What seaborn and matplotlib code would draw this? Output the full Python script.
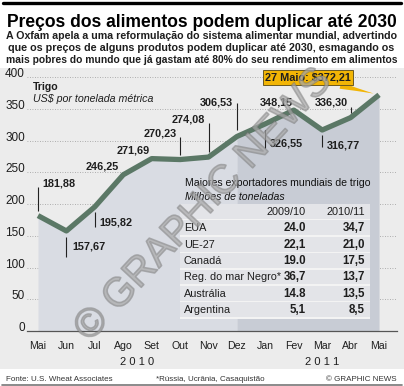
import matplotlib
matplotlib.use("Agg")
import matplotlib.pyplot as plt
import matplotlib.patheffects as pe
import seaborn as sns
import pandas as pd
from matplotlib.patches import Rectangle
from matplotlib.lines import Line2D

# ---------------- data ----------------
months = ['Mai', 'Jun', 'Jul', 'Ago', 'Set', 'Out', 'Nov', 'Dez',
          'Jan', 'Fev', 'Mar', 'Abr', 'Mai']
prices = [181.88, 157.67, 195.82, 246.25, 271.69, 270.23, 274.08, 306.53,
          326.55, 348.15, 316.77, 336.30, 372.21]
price_labels = ['181,88', '157,67', '195,82', '246,25', '271,69', '270,23',
                '274,08', '306,53', '326,55', '348,15', '316,77', '336,30', '372,21']
callout_text = '27 Maio: $372,21'
yticks = [0, 50, 100, 150, 200, 250, 300, 350, 400]
years = ['2 0 1 0', '2 0 1 1']
year_pos = [3.5, 10]

table_title = 'Maiores exportadores mundiais de trigo'
table_unit = 'Milhões de toneladas'
table_cols = ['2009/10', '2010/11']
countries = ['EUA', 'UE-27', 'Canadá', 'Reg. do mar Negro*', 'Austrália', 'Argentina']
exp_2009 = ['24.0', '22,1', '19.0', '36,7', '14.8', '5,1']
exp_2010 = ['34,7', '21,0', '17,5', '13,7', '13,5', '8,5']

title = 'Preços dos alimentos podem duplicar até 2030'
subtitle = ['A Oxfam apela a uma reformulação do sistema alimentar mundial, advertindo',
            'que os preços de alguns produtos podem duplicar até 2030, esmagando os',
            'mais pobres do mundo que já gastam até 80% do seu rendimento em alimentos']
series_name = 'Trigo'
series_unit = 'US$ por tonelada métrica'
source = 'Fonte: U.S. Wheat Associates'
footnote = '*Rússia, Ucrânia, Casaquistão'
credit = '© GRAPHIC NEWS'

# ---------------- style ----------------
sns.set_style('white')
plt.rcParams['font.family'] = ['Liberation Sans', 'DejaVu Sans']
TXT = '#1e1e1e'
LINE = '#5b7866'
FILL_A = '#d9dce3'
FILL_B = '#c8ccd5'
BG = '#ececec'

W, H = 404, 386
def fx(px):
    return px / W
def fy(py):
    return 1 - py / H

fig = plt.figure(figsize=(W / 100, H / 100), dpi=100)
fig.patch.set_facecolor('white')

# background of chart region
fig.patches.append(Rectangle((0, fy(369)), 1, (369 - 68) / H, transform=fig.transFigure,
                             facecolor=BG, edgecolor='none', zorder=-10))
# top rule & bottom rule
fig.add_artist(Line2D([fx(3), fx(401)], [fy(2.5), fy(2.5)], color='black', lw=2.4))
fig.add_artist(Line2D([fx(2), fx(402)], [fy(384.5), fy(384.5)], color='#777777', lw=1.2))

YMAX = 410
ax_bottom, ax_top = 331, 331 - 410 * 0.6345
ax = fig.add_axes([fx(27), fy(ax_bottom), (397 - 27) / W, (ax_bottom - ax_top) / H])
ax.set_facecolor('none')
ppu = (ax_bottom - ax_top) / YMAX  # pixels per data unit

x = list(range(len(prices)))
df = pd.DataFrame({'x': x, 'price': prices})

split = months.index('Dez')
ax.fill_between(x[:split + 1], prices[:split + 1], 0, color=FILL_A, lw=0, zorder=1)
ax.fill_between(x[split:], prices[split:], 0, color=FILL_B, lw=0, zorder=1)
sns.lineplot(data=df, x='x', y='price', ax=ax, color=LINE, lw=3.8, sort=False,
             zorder=3, solid_joinstyle='round', solid_capstyle='butt')

ax.set_xlim((27 - 38) / 28.42, (397 - 38) / 28.42)
ax.set_ylim(0, YMAX)
ax.set_xlabel('')
ax.set_ylabel('')

# grid and axes
ax.set_yticks(yticks)
ax.set_yticklabels([str(v) for v in yticks])
for lbl in ax.get_yticklabels():
    lbl.set_va('baseline')
ax.tick_params(axis='y', length=0, pad=1.5, labelsize=8.5, labelcolor=TXT)
ax.yaxis.grid(True, linestyle=(0, (1, 2)), color='#9a9a9a', lw=0.6)
ax.xaxis.grid(False)
ax.set_axisbelow(True)
ax.set_xticks(x)
ax.set_xticklabels(months)
ax.tick_params(axis='x', length=5, width=0.8, color='#555555', pad=2.5,
               labelsize=7.6, labelcolor=TXT)
for s in ['top', 'right', 'left']:
    ax.spines[s].set_visible(False)
ax.spines['bottom'].set_color('#555555')
ax.spines['bottom'].set_linewidth(0.9)

for yr, pos in zip(years, year_pos):
    ax.annotate(yr, xy=(pos, 0), xytext=(0, -34), textcoords='offset pixels',
                ha='center', va='baseline', fontsize=8, color=TXT, annotation_clip=False)

# point labels (pixel offsets) and leader lines
lab_dx = [4, 5.5, 5, -4, -2, -3, -3.5, -4, 4, -1, 5, -2.6]
lab_dy = [31.6, -16, -16, 8, 8, 26, 38, 34.5, -20, 8, -15, 15.6]
lab_ha = ['left', 'left', 'left', 'right', 'right', 'right', 'right', 'right',
          'left', 'right', 'left', 'right']
leaders = [(5, 29), (-6, -26), (-5, -20), None, None, (4.5, 22.5), (5, 34),
           (6.5, 33.5), (-6, -24), None, (-5, -17), (4.6, 10.6)]
for i in range(len(lab_dx)):
    ax.annotate(price_labels[i], xy=(x[i], prices[i]), xytext=(lab_dx[i], lab_dy[i]),
                textcoords='offset pixels', ha=lab_ha[i], va='center', fontsize=7.8,
                fontweight='bold', color=TXT, zorder=6)
    if leaders[i] is not None:
        a, b = leaders[i]
        ax.plot([x[i], x[i]], [prices[i] + a / ppu, prices[i] + b / ppu],
                color='#222222', lw=0.8, zorder=5, solid_capstyle='butt')

# callout for last point
last = len(prices) - 1
ax.annotate(callout_text, xy=(x[last], prices[last]), xytext=(-71, 17),
            textcoords='offset pixels', ha='center', va='center', fontsize=7.8,
            fontweight='bold', color=TXT, zorder=7,
            bbox=dict(boxstyle='square,pad=0.22', fc='#f2b505', ec='#6b5a20', lw=0.7),
            arrowprops=dict(arrowstyle='wedge,tail_width=0.6,shrink_factor=0.45',
                            fc='#f2b505', ec='none', shrinkA=0, shrinkB=4))

# series caption
fig.text(fx(33), fy(90.5), series_name, fontsize=7.6, fontweight='bold', color=TXT,
         ha='left', va='baseline')
fig.text(fx(33), fy(102), series_unit, fontsize=7.7, style='italic', color=TXT,
         ha='left', va='baseline')

# ---------------- table ----------------
fig.text(fx(185), fy(186.5), table_title, fontsize=7.6, color='#111111',
         ha='left', va='baseline', zorder=8)
fig.text(fx(185), fy(200), table_unit, fontsize=7.6, style='italic', color='#111111',
         ha='left', va='baseline', zorder=8)
row_top0, pitch, row_h = 204, 16.4, 14.8
fig.patches.append(Rectangle((fx(180), fy(row_top0 + 7 * pitch)), (370 - 180) / W,
                             (7 * pitch) / H, transform=fig.transFigure,
                             facecolor='#f3f3f3', edgecolor='none', zorder=6))
rows = [('', table_cols[0], table_cols[1], False)] + \
       [(c, a, b, True) for c, a, b in zip(countries, exp_2009, exp_2010)]
for r, (name, v1, v2, bold) in enumerate(rows):
    top = row_top0 + r * pitch
    fig.patches.append(Rectangle((fx(180), fy(top + row_h)), (370 - 180) / W, row_h / H,
                                 transform=fig.transFigure, facecolor='#e3e4e8',
                                 edgecolor='none', zorder=7))
    cy = top + row_h / 2 + 0.5
    fw = 'bold' if bold else 'normal'
    fs = 8.3 if bold else 7.8
    fig.text(fx(184), fy(cy), name, fontsize=7.8, color=TXT, ha='left', va='center', zorder=8)
    fig.text(fx(306), fy(cy), v1, fontsize=fs, fontweight=fw, color=TXT, ha='right',
             va='center', zorder=8)
    fig.text(fx(365), fy(cy), v2, fontsize=fs, fontweight=fw, color=TXT, ha='right',
             va='center', zorder=8)

# ---------------- titles ----------------
t = fig.text(fx(201.5), fy(27), title, fontsize=15, fontweight='bold', color='black',
             ha='center', va='baseline',
             family=['Liberation Sans Narrow', 'Liberation Sans', 'DejaVu Sans'])
subs = []
for k, line in enumerate(subtitle):
    subs.append(fig.text(fx(201.5), fy(39 + 12 * k), line, fontsize=7.4, fontweight='bold',
                         color=TXT, ha='center', va='baseline'))

# footer
fig.text(fx(6), fy(381), source, fontsize=5.8, color='#333333', ha='left', va='baseline')
fig.text(fx(156), fy(381), footnote, fontsize=5.8, color='#333333', ha='left', va='baseline')
fig.text(fx(397), fy(381), credit, fontsize=5.8, color='#333333', ha='right', va='baseline')

# watermark
fig.text(fx(203), fy(205), credit, fontsize=29, color='#a8a8a8', alpha=0.45,
         rotation=47, ha='center', va='center', zorder=9,
         path_effects=[pe.withStroke(linewidth=1.2, foreground='#6a6a6a')])

# fit title / subtitle widths to reference
fig.canvas.draw()
r = fig.canvas.get_renderer()
def fit(txt, width_px):
    bb = txt.get_window_extent(r)
    txt.set_fontsize(txt.get_fontsize() * width_px / bb.width)
fit(t, 393)
for s, wpx in zip(subs, [392, 386, 393]):
    fit(s, wpx)

fig.savefig('out.png', dpi=100, facecolor=fig.get_facecolor())
